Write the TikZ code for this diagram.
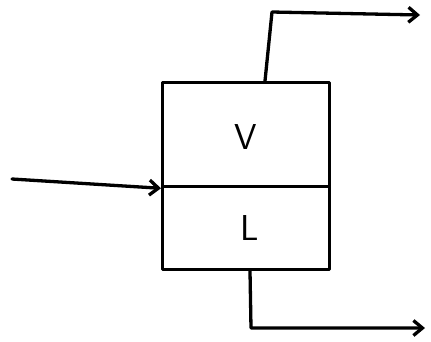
\documentclass[tikz,border=0pt]{standalone}
\usetikzlibrary{arrows.meta}
\begin{document}
\begin{tikzpicture}[x=1pt,y=-1pt,
  pen/.style={line width=3.3pt,line cap=round,line join=round,black},
  flow/.style={pen,-{Straight Barb[length=9pt,width=15pt,line width=3.3pt]}},
  lab/.style={font=\sffamily\fontsize{36}{36}\selectfont}]
\useasboundingbox (0,0) rectangle (431,341);
\node[draw,pen,minimum width=167pt,minimum height=104pt,inner sep=0pt,anchor=north west] (vap) at (161,81) {};
\node[draw,pen,minimum width=167pt,minimum height=83pt,inner sep=0pt,anchor=north west] (liq) at (161,185) {};
\node[lab] (V) at (246,137) {V};
\node[lab] (L) at (250,228) {L};
\coordinate (feed) at (12,179);
\coordinate (top) at (265,81);
\coordinate (bot) at (250,271);
\coordinate (vout) at (420,15);
\coordinate (lout) at (425,328);
\draw[flow] (feed) -- (vap.south west);
\draw[flow] (top) -- (272,12) -- (vout);
\draw[flow] (bot) -- (251,328) -- (lout);
\end{tikzpicture}
\end{document}
